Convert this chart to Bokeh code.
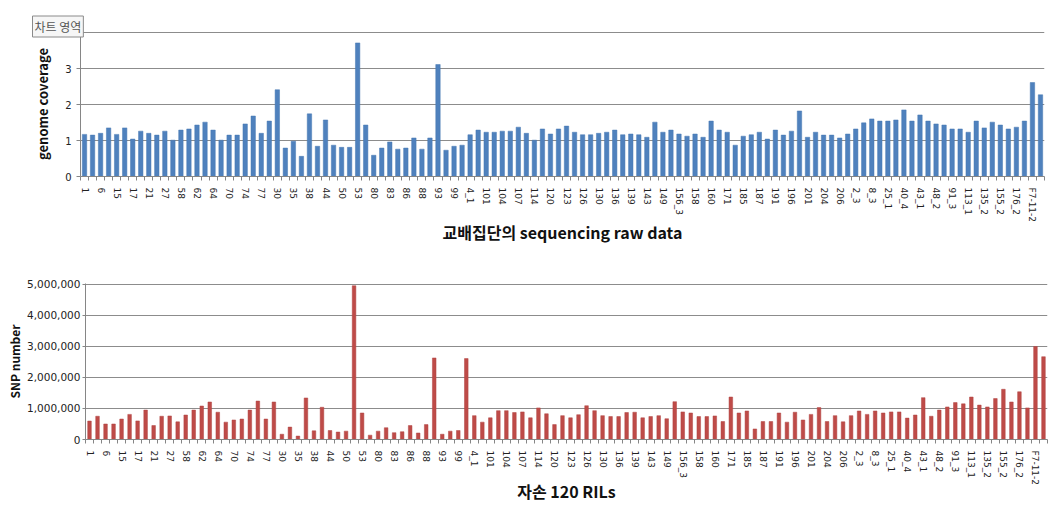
from bokeh.plotting import figure
from bokeh.layouts import column
from bokeh.models import Range1d, FixedTicker, Title, NumeralTickFormatter
from bokeh.embed import file_html
from bokeh.resources import INLINE

# visible category labels (every other line is labelled)
tick_labels = ["1", "6", "15", "17", "21", "27", "58", "62", "64", "70", "74", "77",
               "30", "35", "38", "44", "50", "53", "80", "83", "86", "88", "93", "99",
               "4_1", "101", "104", "107", "114", "120", "123", "126", "130", "136", "139", "143",
               "149", "156_3", "158", "160", "171", "185", "187", "191", "196", "201", "204", "206",
               "2_3", "8_3", "25_1", "40_4", "43_1", "48_2", "91_3", "113_1", "135_2", "155_2",
               "176_2", "F7-11-2"]

coverage = [1.17, 1.15, 1.20, 1.35, 1.17, 1.35, 1.04, 1.26, 1.20, 1.15,
            1.26, 1.01, 1.29, 1.32, 1.43, 1.51, 1.29, 1.01, 1.15, 1.15,
            1.46, 1.68, 1.20, 1.54, 2.41, 0.79, 0.98, 0.56, 1.74, 0.84,
            1.57, 0.87, 0.81, 0.81, 3.71, 1.43, 0.59, 0.79, 0.96, 0.76,
            0.79, 1.07, 0.76, 1.07, 3.11, 0.73, 0.84, 0.87, 1.16, 1.29,
            1.23, 1.23, 1.26, 1.26, 1.37, 1.20, 1.01, 1.32, 1.18, 1.32,
            1.40, 1.23, 1.16, 1.16, 1.20, 1.23, 1.29, 1.16, 1.18, 1.16,
            1.09, 1.51, 1.23, 1.29, 1.18, 1.12, 1.18, 1.09, 1.54, 1.29,
            1.23, 0.87, 1.12, 1.16, 1.23, 1.04, 1.29, 1.15, 1.26, 1.82,
            1.09, 1.23, 1.15, 1.15, 1.07, 1.18, 1.32, 1.49, 1.60, 1.54,
            1.54, 1.57, 1.85, 1.54, 1.71, 1.54, 1.46, 1.43, 1.32, 1.32,
            1.23, 1.54, 1.35, 1.51, 1.43, 1.32, 1.37, 1.54, 2.61, 2.27]

snp = [595000, 750000, 500000, 500000, 660000, 810000, 600000, 950000, 450000, 750000,
       760000, 570000, 790000, 950000, 1080000, 1210000, 880000, 560000, 630000, 660000,
       950000, 1240000, 660000, 1210000, 170000, 400000, 110000, 1340000, 280000, 1040000,
       290000, 240000, 270000, 4960000, 855000, 140000, 270000, 380000, 220000, 250000,
       450000, 210000, 480000, 2630000, 170000, 270000, 290000, 2610000, 770000, 560000,
       700000, 930000, 930000, 870000, 890000, 700000, 1020000, 830000, 480000, 770000,
       700000, 800000, 1090000, 930000, 770000, 740000, 740000, 870000, 880000, 700000,
       740000, 770000, 670000, 1220000, 890000, 855000, 740000, 740000, 760000, 580000,
       1370000, 855000, 920000, 340000, 580000, 580000, 855000, 560000, 880000, 630000,
       810000, 1030000, 580000, 770000, 570000, 770000, 920000, 810000, 920000, 855000,
       890000, 890000, 690000, 790000, 1350000, 750000, 950000, 1050000, 1190000, 1150000,
       1370000, 1110000, 1050000, 1320000, 1620000, 1210000, 1540000, 1020000, 3000000, 2670000]

top_title = "교배집단의 sequencing raw data"
bottom_title = "자손 120 RILs"
tip_text = "차트 영역"

n = len(coverage)
xs = list(range(n))
label_ticks = list(range(0, n, 2))
overrides = {t: lab for t, lab in zip(label_ticks, tick_labels)}
bounds = [i - 0.5 for i in range(n + 1)]

GRID = "#8c8c8c"
AXIS = "#868686"
TXT = "#222222"
KFONT = "Noto Sans CJK KR"
TFONT = "DejaVu Sans"


def style(p, title):
    p.outline_line_color = None
    p.xgrid.visible = False
    p.ygrid.grid_line_color = GRID
    p.ygrid.grid_line_width = 1
    p.background_fill_color = "white"
    p.border_fill_color = None
    try:
        p.frame_align = False
    except Exception:
        pass
    xa = p.xaxis[0]
    xa.ticker = FixedTicker(ticks=label_ticks, minor_ticks=bounds)
    xa.major_label_overrides = overrides
    xa.major_label_orientation = "vertical"
    xa.major_tick_out = 0
    xa.major_tick_in = 0
    xa.minor_tick_out = 4
    xa.minor_tick_in = 0
    xa.minor_tick_line_color = AXIS
    xa.axis_line_color = AXIS
    xa.major_label_text_font = TFONT
    xa.major_label_text_font_size = "9px"
    xa.major_label_text_color = TXT
    xa.axis_label = title
    xa.axis_label_text_font = KFONT
    xa.axis_label_text_font_style = "bold"
    xa.axis_label_text_font_size = "16px"
    xa.axis_label_text_color = "#111111"
    ya = p.yaxis[0]
    ya.axis_line_color = AXIS
    ya.major_tick_line_color = AXIS
    ya.major_tick_out = 4
    ya.major_tick_in = 0
    ya.minor_tick_line_color = None
    ya.major_label_text_font = TFONT
    ya.major_label_text_color = TXT
    ya.axis_label_text_font = KFONT
    ya.axis_label_text_font_style = "bold"
    ya.axis_label_text_color = "#111111"


# ---------- top chart ----------
p1 = figure(width=1060, height=258, output_backend="svg", toolbar_location=None,
            x_range=Range1d(-0.5, n - 0.5), y_range=Range1d(0, 4.028),
            min_border_left=80, min_border_right=16, min_border_top=31, min_border_bottom=82)
p1.vbar(x=xs, top=coverage, width=0.55, fill_color="#4F81BD", line_color="#4678B2", line_width=0.5)
style(p1, top_title)
p1.yaxis[0].ticker = FixedTicker(ticks=[0, 1, 2, 3, 4])
p1.yaxis[0].major_label_overrides = {4: ""}
p1.yaxis[0].major_label_text_font_size = "10px"
p1.yaxis[0].major_label_standoff = 5
p1.yaxis[0].axis_label = "genome coverage"
p1.yaxis[0].axis_label_text_font_size = "13px"
p1.yaxis[0].axis_label_standoff = 10
p1.xaxis[0].major_label_standoff = 7
p1.xaxis[0].axis_label_standoff = -5

tip = Title(text=tip_text, align="left", offset=-48, standoff=-11,
            text_font=KFONT, text_font_size="12px", text_font_style="normal",
            text_color="#555555", background_fill_color="#f6f6f6",
            border_line_color="#8a8a8a", border_line_width=1, padding=2)
p1.add_layout(tip, "above")

# ---------- bottom chart ----------
p2 = figure(width=1060, height=254, output_backend="svg", toolbar_location=None,
            x_range=Range1d(-0.5, n - 0.5), y_range=Range1d(0, 5032000),
            min_border_left=85, min_border_right=13, min_border_top=25, min_border_bottom=73)
p2.vbar(x=xs, top=snp, width=0.45, fill_color="#BE4B48", line_color="#B04442", line_width=0.5)
style(p2, bottom_title)
p2.yaxis[0].ticker = FixedTicker(ticks=[0, 1000000, 2000000, 3000000, 4000000, 5000000])
p2.yaxis[0].formatter = NumeralTickFormatter(format="0,0")
p2.yaxis[0].major_label_text_font_size = "10.5px"
p2.yaxis[0].major_tick_out = 3
p2.yaxis[0].major_label_standoff = 2
p2.yaxis[0].axis_label = "SNP number"
p2.yaxis[0].axis_label_text_font_size = "12px"
p2.yaxis[0].axis_label_standoff = 1
p2.xaxis[0].major_label_standoff = 7
p2.xaxis[0].axis_label_standoff = -9

layout = column(p1, p2, spacing=0)
open("out.html", "w").write(file_html(layout, INLINE))
